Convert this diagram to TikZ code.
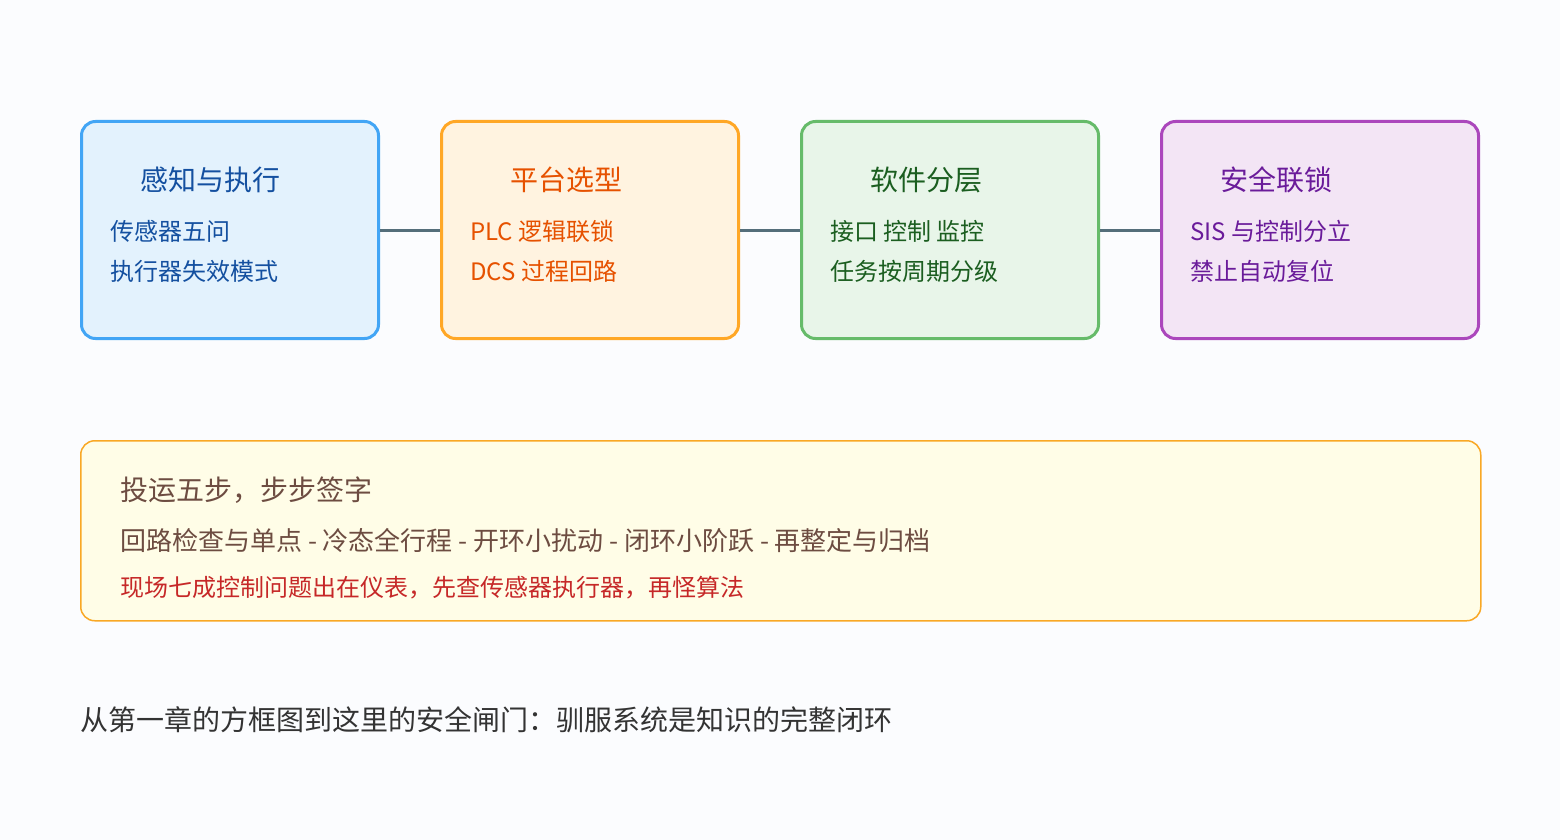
\documentclass[tikz,border=0pt]{standalone}
\usepackage{fontspec}
\setmainfont{Noto Sans CJK SC}
\begin{document}
\begin{tikzpicture}[x=1pt,y=-1pt,
 box/.style={draw,line width=3pt,rounded corners=14pt,minimum width=297pt,minimum height=217pt,anchor=north west},
 t/.style={anchor=base west,inner sep=0pt,font=\fontsize{28}{30}\selectfont},
 s/.style={anchor=base west,inner sep=0pt,font=\fontsize{24}{26}\selectfont},
 conn/.style={draw=c0,line width=3pt}]
\definecolor{bg}{HTML}{FBFCFE}
\definecolor{c0}{HTML}{546E7A}
\definecolor{b1}{HTML}{42A5F5}\definecolor{f1}{HTML}{E3F2FD}\definecolor{t1}{HTML}{1450A0}
\definecolor{b2}{HTML}{FFA726}\definecolor{f2}{HTML}{FFF3E0}\definecolor{t2}{HTML}{E65100}
\definecolor{b3}{HTML}{66BB6A}\definecolor{f3}{HTML}{E8F5E9}\definecolor{t3}{HTML}{1B5E20}
\definecolor{b4}{HTML}{AB47BC}\definecolor{f4}{HTML}{F3E5F5}\definecolor{t4}{HTML}{6A1B9A}
\definecolor{b5}{HTML}{F9A825}\definecolor{f5}{HTML}{FFFDE7}\definecolor{t5}{HTML}{6D4C41}
\definecolor{r5}{HTML}{C62828}
\fill[bg] (0,0) rectangle (1560,840);
\useasboundingbox (0,0) rectangle (1560,840);
\node[box,draw=b1,fill=f1] (n1) at (80,120) {};
\node[box,draw=b2,fill=f2] (n2) at (440,120) {};
\node[box,draw=b3,fill=f3] (n3) at (800,120) {};
\node[box,draw=b4,fill=f4,minimum width=317pt] (n4) at (1160,120) {};
\draw[conn] (n1.east) -- (n2.west);
\draw[conn] (n2.east) -- (n3.west);
\draw[conn] (n3.east) -- (n4.west);
\node[t,text=t1] (a1) at (140,190) {感知与执行};
\node[s,text=t1] (a2) at (110,240) {传感器五问};
\node[s,text=t1] (a3) at (110,280) {执行器失效模式};
\node[t,text=t2] (b1t) at (510,190) {平台选型};
\node[s,text=t2] (b2t) at (470,240) {PLC 逻辑联锁};
\node[s,text=t2] (b3t) at (470,280) {DCS 过程回路};
\node[t,text=t3] (c1) at (870,190) {软件分层};
\node[s,text=t3] (c2) at (830,240) {接口 控制 监控};
\node[s,text=t3] (c3) at (830,280) {任务按周期分级};
\node[t,text=t4] (d1) at (1220,190) {安全联锁};
\node[s,text=t4] (d2) at (1190,240) {SIS 与控制分立};
\node[s,text=t4] (d3) at (1190,280) {禁止自动复位};
\node[draw=b5,fill=f5,line width=1.5pt,rounded corners=14pt,minimum width=1400pt,minimum height=180pt,anchor=north west] (bot) at (80,440) {};
\node[s,text=t5,font=\fontsize{28}{30}\selectfont] (e1) at (120,500) {投运五步，步步签字};
\node[s,text=t5,font=\fontsize{26}{28}\selectfont] (e2) at (120,550) {回路检查与单点 - 冷态全行程 - 开环小扰动 - 闭环小阶跃 - 再整定与归档};
\node[s,text=r5,font=\fontsize{24}{26}\selectfont] (e3) at (120,596) {现场七成控制问题出在仪表，先查传感器执行器，再怪算法};
\node[s,text=black!80,font=\fontsize{28}{30}\selectfont] (f) at (80,730) {从第一章的方框图到这里的安全闸门：驯服系统是知识的完整闭环};
\end{tikzpicture}
\end{document}
